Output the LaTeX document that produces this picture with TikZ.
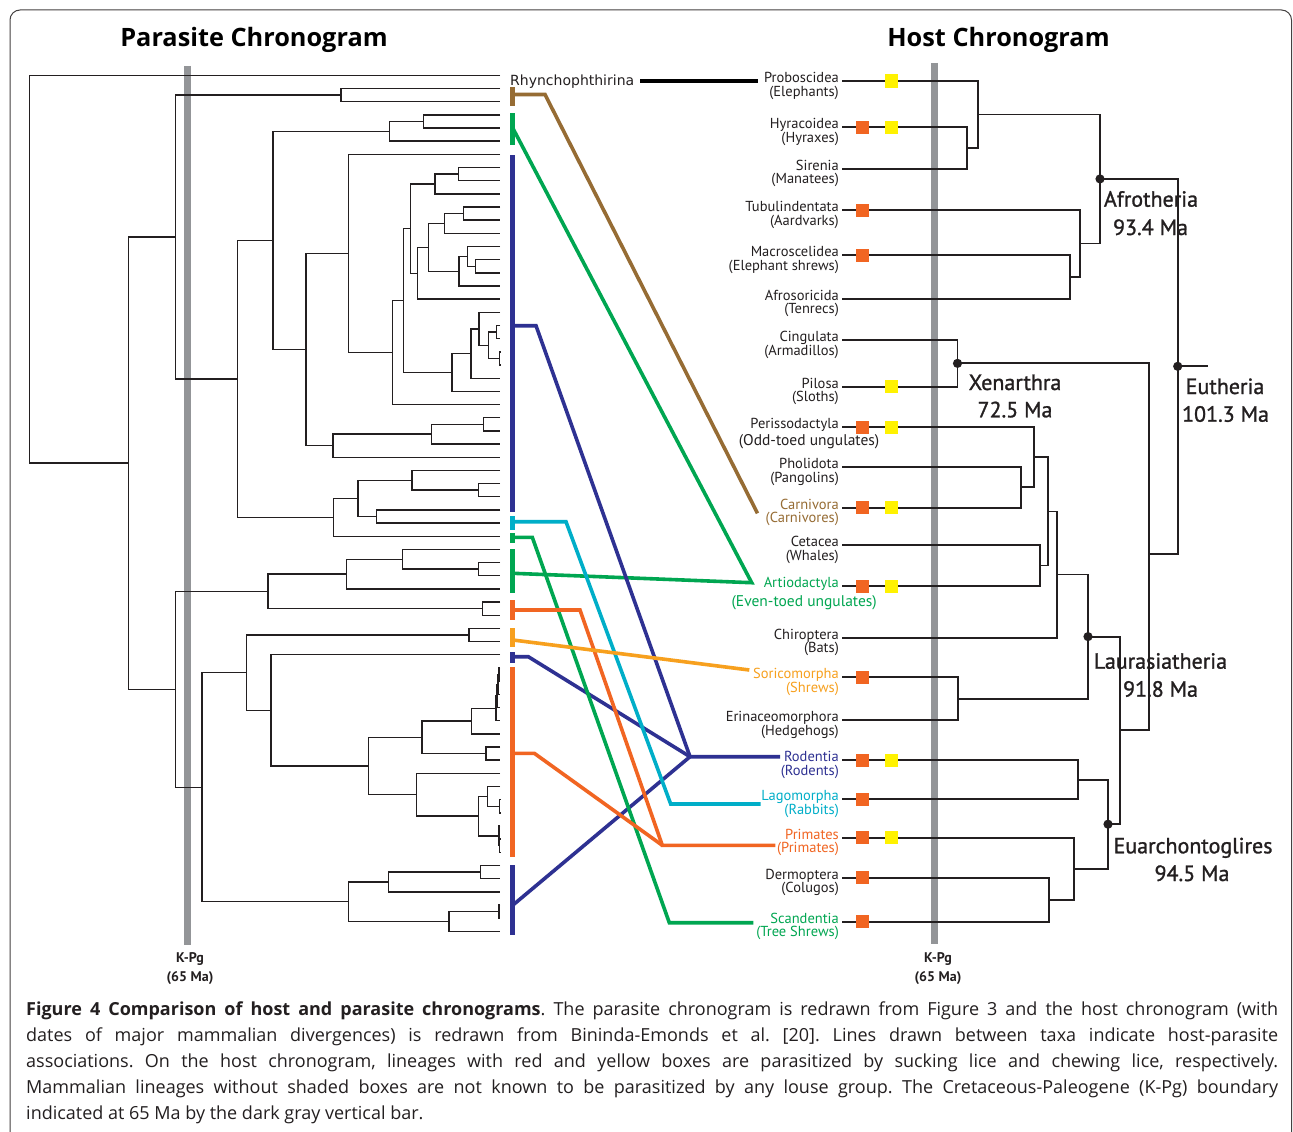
\documentclass[tikz,border=0pt]{standalone}
\usepackage{fontspec}
\setmainfont{PT Sans}
\newfontfamily\rhyfont{DejaVu Sans}
\newfontfamily\capfont{Open Sans}
\newfontfamily\cladefont[FakeBold=1.2]{PT Sans}
\usetikzlibrary{calc}
\definecolor{tl}{RGB}{35,31,32}
\definecolor{kpg}{RGB}{147,149,152}
\definecolor{cbrown}{RGB}{150,108,52}
\definecolor{cgreen}{RGB}{0,166,81}
\definecolor{cnavy}{RGB}{46,49,146}
\definecolor{ccyan}{RGB}{0,174,200}
\definecolor{corange}{RGB}{241,101,34}
\definecolor{cyorange}{RGB}{247,160,30}
\definecolor{cyellow}{RGB}{255,242,0}
\definecolor{cred}{RGB}{241,101,34}
\tikzset{
 ptree/.style={draw=tl, line width=1.4pt},
 htree/.style={draw=tl, line width=1.8pt},
 kpgbar/.style={draw=kpg, line width=6.5pt},
 assoc/.style={line width=3.6pt},
 pbar/.style={line width=5pt},
 hl/.style={font=\fontsize{14.5}{14.5}\selectfont, inner sep=0pt},
 clade/.style={font=\cladefont\fontsize{22}{28}\selectfont, inner sep=0pt, text=tl, anchor=base},
 sqr/.style={minimum size=13pt, inner sep=0pt, fill=cred},
 sqy/.style={minimum size=13pt, inner sep=0pt, fill=cyellow},
 kpglab/.style={font=\bfseries\fontsize{14}{14}\selectfont, text=tl, inner sep=0pt, anchor=base},
 ttl/.style={font=\capfont\bfseries\fontsize{25.3}{26}\selectfont, text=black, inner sep=0pt, anchor=base},
 capl/.style={font=\capfont\frenchspacing\fontsize{18}{26}\selectfont, text=tl, inner sep=0pt, anchor=base west},
}
\newcommand\tn[5][ptree]{%
 \coordinate (tmpm) at ($(#4)!0.5!(#5)$);
 \coordinate (#2) at (tmpm -| #3,0);
 \draw[#1] (#4) -| (#2) |- (#5);}
\newcommand\tnY[6][ptree]{%
 \coordinate (#2) at (#3,#4);
 \draw[#1] (#5) -| (#2) |- (#6);}
\newcommand\hlab[5]{%
 \coordinate (#1) at (842,#2);
 \node[hl, text=#5, anchor=base east] (#1A) at (839,{#2+1.5}) {#3};
 \node[hl, text=#5, anchor=base east] (#1B) at (839,{#2+15}) {#4};}
\begin{document}
\begin{tikzpicture}[x=1pt,y=-1pt]
\useasboundingbox (0,0) rectangle (1293,1132);
\fill[white] (0,0) rectangle (1293,1132);
\draw[line width=1pt, draw=tl!85, rounded corners=10pt] (10,10) rectangle (1291.5,1170);

% titles
\node[ttl] (ptitle) at (254,47) {Parasite Chronogram};
\node[ttl] (htitle) at (998.5,47) {Host Chronogram};

% K-Pg bars
\draw[kpgbar] (187.5,66) -- (187.5,945);
\draw[kpgbar] (934.7,63) -- (934.7,944);
\node[kpglab] (kpgL1) at (190,962) {K-Pg};
\node[kpglab] (kpgL2) at (190,981) {(65 Ma)};
\node[kpglab] (kpgR1) at (938,962) {K-Pg};
\node[kpglab] (kpgR2) at (938,981) {(65 Ma)};

% ---------- parasite tree ----------
\foreach \i in {0,...,65}{\coordinate (t\i) at (500,{75.3+13.17*\i});}
\tn{pa}{341}{t1}{t2}
\tn{pb1}{423.3}{t3}{t4}
\tn{pb}{389.7}{pb1}{t5}
\tn{pc1}{458.3}{t7}{t8}
\tn{pc}{435}{pc1}{t9}
\tn{pd1}{463.7}{t10}{t11}
\tn{pd}{444.3}{pd1}{t12}
\tn{pe1}{475.7}{t14}{t15}
\tn{pe}{467.7}{t13}{pe1}
\tn{pf}{459}{pe}{t16}
\tn{pK}{428.3}{pd}{pf}
\tn{pJ}{417.7}{pK}{t17}
\tn{pI}{410.7}{pc}{pJ}
\tn{pl1}{496.7}{t19}{t20}
\tn{pl2}{499.5}{t21}{t22}
\tn{pl3}{488.7}{pl1}{pl2}
\tn{pl4}{479}{t18}{pl3}
\tn{pl5}{471}{pl4}{t23}
\tn{pL}{452}{pl5}{t24}
\tn{pH}{403.3}{pI}{pL}
\tn{pG}{392.3}{pH}{t25}
\tn{pF}{348.7}{t6}{pG}
\tn{pm1}{483.3}{t26}{t27}
\tn{pm2}{431.7}{pm1}{t28}
\tn{pm}{333}{pm2}{t29}
\tn{pE}{306}{pF}{pm}
\tn{pD}{273}{pb}{pE}
\tn{pn1}{478.3}{t31}{t32}
\tn{pn2}{412}{t30}{pn1}
\tn{pn3}{376.7}{t33}{t34}
\tn{pn4}{358}{pn2}{pn3}
\tn{pn}{333.3}{pn4}{t35}
\tn{pC}{237.7}{pD}{pn}
\tn{pB}{175.7}{pa}{pC}
\tn{pq1}{478.3}{t37}{t38}
\tn{pq2}{402.3}{t36}{pq1}
\tn{pq3}{346.7}{pq2}{t39}
\tn{pq4}{482.7}{t40}{t41}
\tn{pM1}{268}{pq3}{pq4}
\tn{pr1}{469}{t42}{t43}
\tn{ps1}{498.8}{t45}{t46}
\tn{ps2}{497.8}{ps1}{t47}
\tn{ps3}{497}{ps2}{t48}
\tn{ps4}{496}{ps3}{t49}
\tn{ps5}{471.3}{ps4}{t50}
\tn{ps6}{486}{t51}{t52}
\tn{ps7}{422}{ps5}{ps6}
\tn{pu1}{499.5}{t55}{t56}
\tn{pu2}{487.7}{t54}{pu1}
\tn{pu3}{499.6}{t58}{t59}
\tn{pu4}{499}{t57}{pu3}
\tn{pu5}{478.7}{pu2}{pu4}
\tn{pu6}{416.7}{t53}{pu5}
\tn{pv}{368.3}{ps7}{pu6}
\tn{pw}{271}{t44}{pv}
\tn{pN1}{246.7}{pr1}{pw}
\tn{px1}{480.7}{t60}{t61}
\tn{px2}{388.3}{px1}{t62}
\tn{px3}{499}{t63}{t64}
\tn{px4}{449}{px3}{t65}
\tn{px5}{348.3}{px2}{px4}
\tn{pN}{202}{pN1}{px5}
\tn{pM}{175.7}{pM1}{pN}
\tn{pA}{128.7}{pB}{pM}
\tn{proot}{29.3}{t0}{pA}

% Rhynchophthirina
\node[inner sep=0pt, anchor=base west, text=tl, font=\rhyfont\fontsize{14}{14}\selectfont] (rhy) at (510,85) {Rhynchophthirina};

% ---------- host labels ----------
\hlab{hProb}{81}{Proboscidea}{(Elephants)}{tl}
\hlab{hHyr}{127}{Hyracoidea}{(Hyraxes)}{tl}
\hlab{hSir}{168.7}{Sirenia}{(Manatees)}{tl}
\hlab{hTub}{210}{Tubulindentata}{(Aardvarks)}{tl}
\hlab{hMac}{255}{Macroscelidea}{(Elephant shrews)}{tl}
\hlab{hAfr}{298.7}{Afrosoricida}{(Tenrecs)}{tl}
\hlab{hCin}{340}{Cingulata}{(Armadillos)}{tl}
\hlab{hPil}{386.7}{Pilosa}{(Sloths)}{tl}
\coordinate (hPer) at (842,427.3);
\node[hl, text=tl, anchor=base east] (hPerA) at (839,428.8) {Perissodactyla};
\node[hl, text=tl, anchor=base east, font=\fontsize{15.5}{15.5}\selectfont] (hPerB) at (879.5,445) {(Odd-toed ungulates)};
\hlab{hPho}{467}{Pholidota}{(Pangolins)}{tl}
\hlab{hCar}{507.7}{Carnivora}{(Carnivores)}{cbrown}
\hlab{hCet}{545}{Cetacea}{(Whales)}{tl}
\coordinate (hArt) at (842,586);
\node[hl, text=cgreen, anchor=base east] (hArtA) at (839,587.5) {Artiodactyla};
\node[hl, text=cgreen, anchor=base east, font=\fontsize{15.5}{15.5}\selectfont] (hArtB) at (877,606) {(Even-toed ungulates)};
\hlab{hChi}{637.7}{Chiroptera}{(Bats)}{tl}
\hlab{hSor}{677.3}{Soricomorpha}{(Shrews)}{cyorange}
\hlab{hEri}{720}{Erinaceomorphora}{(Hedgehogs)}{tl}
\hlab{hRod}{760}{Rodentia}{(Rodents)}{cnavy}
\hlab{hLag}{799.3}{Lagomorpha}{(Rabbits)}{ccyan}
\hlab{hPri}{837.7}{Primates}{(Primates)}{corange}
\hlab{hDer}{877.7}{Dermoptera}{(Colugos)}{tl}
\hlab{hSca}{921.7}{Scandentia}{(Tree Shrews)}{cgreen}

% clade labels
\node[clade] (afro1) at (1151,206.7) {Afrotheria};
\node[clade] (afro2) at (1150.5,235) {93.4 Ma};
\node[clade] (xen1) at (1015,390) {Xenarthra};
\node[clade] (xen2) at (1015,417.3) {72.5 Ma};
\node[clade] (eut1) at (1225,394) {Eutheria};
\node[clade] (eut2) at (1225.5,421.7) {101.3 Ma};
\node[clade] (lau1) at (1160.5,668.7) {Laurasiatheria};
\node[clade] (lau2) at (1160.5,696.7) {91.8 Ma};
\node[clade] (eua1) at (1193,853.3) {Euarchontoglires};
\node[clade] (eua2) at (1192,881) {94.5 Ma};

% ---------- host tree ----------
\tn[htree]{hHS}{967}{hHyr}{hSir}
\tn[htree]{hP}{977.7}{hProb}{hHS}
\tn[htree]{hMA}{1070}{hMac}{hAfr}
\tn[htree]{hT}{1080}{hTub}{hMA}
\tn[htree]{hAfro}{1100}{hP}{hT}
\tn[htree]{hX}{957.5}{hCin}{hPil}
\tn[htree]{hPC}{1021.3}{hPho}{hCar}
\tn[htree]{hPe}{1034}{hPer}{hPC}
\tn[htree]{hCA}{1040}{hCet}{hArt}
\tn[htree]{hF}{1048}{hPe}{hCA}
\tn[htree]{hG}{1056.7}{hF}{hChi}
\tn[htree]{hSE}{957.7}{hSor}{hEri}
\tn[htree]{hLaur}{1088}{hG}{hSE}
\tn[htree]{hRL}{1078.3}{hRod}{hLag}
\tn[htree]{hDS}{1049.3}{hDer}{hSca}
\tn[htree]{hPD}{1074}{hPri}{hDS}
\tn[htree]{hEua}{1108}{hRL}{hPD}
\tn[htree]{hBor}{1120}{hLaur}{hEua}
\tnY[htree]{hXB}{1149}{553.7}{hX}{hBor}
\tn[htree]{hEuth}{1177.7}{hAfro}{hXB}
\draw[htree] (hEuth) -- ++(30,0) coordinate (hStem);
\foreach \n in {hAfro,hX,hEuth,hLaur,hEua}{\fill[tl] (\n) circle[radius=4.6pt];}

% squares
\foreach \n in {hHyr,hTub,hMac,hPer,hCar,hArt,hSor,hRod,hLag,hPri,hDer,hSca}{\node[sqr] (\n R) at ($(\n)+(20,0)$) {};}
\foreach \n in {hProb,hHyr,hPil,hPer,hCar,hArt,hRod,hPri}{\node[sqy] (\n Y) at ($(\n)+(49,0)$) {};}

% Rhynchophthirina link
\coordinate (rhyS) at ($(rhy.base east)+(6,-4)$);
\draw[line width=4pt, draw=black] (rhyS) -- ($(rhyS -| hProbA.west)+(-6,0)$);

% ---------- association bars ----------
\draw[pbar, cbrown] (512.5,87) -- (512.5,106);
\draw[pbar, cgreen] (512.5,113) -- (512.5,145);
\draw[pbar, cnavy] (512.5,155) -- (512.5,512);
\draw[pbar, ccyan] (512.5,516) -- (512.5,530);
\draw[pbar, cgreen] (512.5,533) -- (512.5,543.3);
\draw[pbar, cgreen] (512.5,549.3) -- (512.5,592.7);
\draw[pbar, corange] (512.5,600) -- (512.5,620);
\draw[pbar, cyorange] (512.5,628) -- (512.5,647);
\draw[pbar, cnavy] (512.5,652) -- (512.5,663);
\draw[pbar, corange] (512.5,667) -- (512.5,857);
\draw[pbar, cnavy] (512.5,865) -- (512.5,935);

% association endpoints
\coordinate (aCar) at (757.5,513.3);
\coordinate (aArt) at (751.7,582.7);
\coordinate (aRod) at (690,756.7);
\coordinate (aPri) at (662.3,845.3);
\coordinate (aLag) at (670.7,804);
\coordinate (aSca) at (669.3,922.7);
\coordinate (aSor) at (749.3,670);

\draw[assoc, cbrown] (512.5,94.5) -- (545,94.5) -- (aCar);
\draw[assoc, cgreen, line join=miter] (513,128.5) -- (aArt) -- (513,573.3);
\draw[assoc, cnavy] (513,325.7) -- (536,325.7) -- (aRod) -- (780,756.7);
\draw[assoc, cnavy] (513,656.7) -- (528.3,656.7) -- (aRod);
\draw[assoc, cnavy] (513,905) -- (aRod);
\draw[assoc, ccyan] (513,521.7) -- (566,521.7) -- (aLag) -- (760.7,804);
\draw[assoc, cgreen] (513,537.3) -- (532.3,537.3) -- (aSca) -- (753.3,922.7);
\draw[assoc, corange] (513,610) -- (580,610) -- (aPri) -- (775.3,845.3);
\draw[assoc, corange] (513,753.3) -- (534.3,753.3) -- (aPri);
\draw[assoc, cyorange] (513,640) -- (aSor);

% ---------- caption ----------
\node[capl] (cap1) at (26,1015) {\makebox[1252pt][s]{\textbf{Figure 4 Comparison of host and parasite chronograms}. The parasite chronogram is redrawn from Figure 3 and the host chronogram (with}};
\node[capl] (cap2) at (26,1041) {\makebox[1252pt][s]{dates of major mammalian divergences) is redrawn from Bininda-Emonds et al. [20]. Lines drawn between taxa indicate host-parasite}};
\node[capl] (cap3) at (26,1067) {\makebox[1252pt][s]{associations. On the host chronogram, lineages with red and yellow boxes are parasitized by sucking lice and chewing lice, respectively.}};
\node[capl] (cap4) at (26,1093) {\makebox[1252pt][s]{Mammalian lineages without shaded boxes are not known to be parasitized by any louse group. The Cretaceous-Paleogene (K-Pg) boundary}};
\node[capl] (cap5) at (26,1119) {indicated at 65 Ma by the dark gray vertical bar.};
\end{tikzpicture}
\end{document}
